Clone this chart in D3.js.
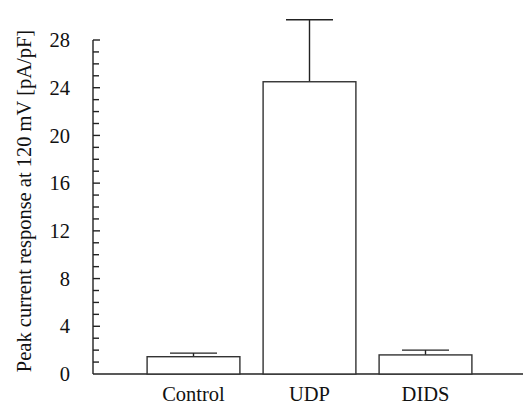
<!DOCTYPE html>
<html>
  <head>
    <style>
      body { margin: 0; background: #fff; }
      svg { display: block; }
      text { font-family: "Liberation Serif", "Times New Roman", serif; fill: #111; }
      .axis path, .axis line { stroke: #222; stroke-width: 1.4; }
      .bar { fill: #fff; stroke: #333; stroke-width: 1.4; }
      .err { stroke: #222; stroke-width: 1.4; fill: none; }
    </style>
  </head>
  <body>
    <svg width="524" height="404"></svg>
    <script src="https://d3js.org/d3.v7.min.js"></script>
    <script>
      // values
      var groups = ["Control", "UDP", "DIDS"];
      var means = [1.45, 24.5, 1.6];
      var errs = [0.3, 5.2, 0.4];
      var yTicks = [0, 4, 8, 12, 16, 20, 24, 28];
      var yLabel = "Peak current response at 120 mV [pA/pF]";

      var svg = d3.select("svg");

      var y = d3.scaleLinear()
        .domain([0, 28])
        .range([374, 40]);

      var x = d3.scaleBand()
        .domain(groups)
        .range([135.5, 483.5])
        .paddingInner(0.2)
        .paddingOuter(0.1);

      // y axis: major ticks every 4, minor every 1, ticks inside
      var yAxis = svg.append("g")
        .attr("class", "axis")
        .attr("transform", "translate(93,0)");

      yAxis.append("line")
        .attr("y1", y(0)).attr("y2", y(28));

      yAxis.selectAll(".minor")
        .data(d3.range(1, 29))
        .enter().append("line")
          .attr("x1", 0).attr("x2", function(d) { return d % 4 === 0 ? 7 : 6; })
          .attr("y1", function(d) { return y(d); })
          .attr("y2", function(d) { return y(d); });

      yAxis.selectAll(".lbl")
        .data(yTicks)
        .enter().append("text")
          .attr("x", -23)
          .attr("y", function(d) { return y(d); })
          .attr("dy", "0.35em")
          .attr("text-anchor", "end")
          .style("font-size", "20.5px")
          .text(function(d) { return d; });

      // x baseline
      svg.append("line")
        .attr("class", "err")
        .attr("x1", 93).attr("x2", 523)
        .attr("y1", y(0)).attr("y2", y(0));

      var bars = svg.selectAll(".grp")
        .data(groups)
        .enter().append("g");

      bars.append("line")
        .attr("class", "err")
        .attr("x1", function(d) { return x(d) + x.bandwidth() / 2; })
        .attr("x2", function(d) { return x(d) + x.bandwidth() / 2; })
        .attr("y1", function(d, i) { return y(means[i]); })
        .attr("y2", function(d, i) { return y(means[i] + errs[i]); });

      bars.append("line")
        .attr("class", "err")
        .attr("x1", function(d) { return x(d) + x.bandwidth() / 2 - 23.5; })
        .attr("x2", function(d) { return x(d) + x.bandwidth() / 2 + 23.5; })
        .attr("y1", function(d, i) { return y(means[i] + errs[i]); })
        .attr("y2", function(d, i) { return y(means[i] + errs[i]); });

      bars.append("rect")
        .attr("class", "bar")
        .attr("x", function(d) { return x(d); })
        .attr("width", x.bandwidth())
        .attr("y", function(d, i) { return y(means[i]); })
        .attr("height", function(d, i) { return y(0) - y(means[i]); });

      bars.append("text")
        .attr("x", function(d) { return x(d) + x.bandwidth() / 2; })
        .attr("y", 401)
        .attr("text-anchor", "middle")
        .style("font-size", "20.5px")
        .text(function(d) { return d; });

      svg.append("text")
        .attr("transform", "translate(31,201) rotate(-90)")
        .attr("text-anchor", "middle")
        .style("font-size", "20.5px")
        .text(yLabel);
    </script>
  </body>
</html>
